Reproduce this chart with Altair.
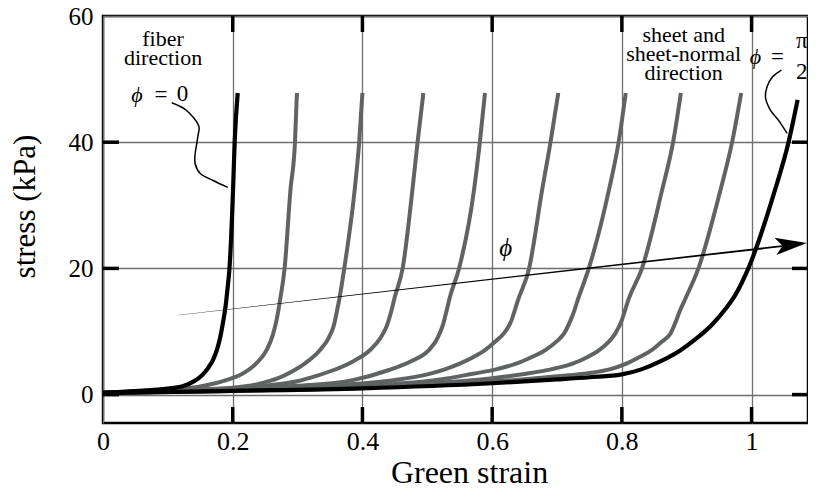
import altair as alt
import pandas as pd

# ---------------- data ----------------
x_ticks = [0.2, 0.4, 0.6, 0.8, 1.0]
x_labels = [0, 0.2, 0.4, 0.6, 0.8, 1.0]
y_ticks = [0, 20, 40]
y_labels = [0, 20, 40, 60]

# fiber direction (phi = 0), black
fiber_x = [0, 0.05, 0.10, 0.125, 0.140, 0.152, 0.162, 0.170, 0.176, 0.181, 0.185, 0.189, 0.192, 0.195, 0.2005, 0.203, 0.2077]
fiber_y = [0.3, 0.55, 0.95, 1.4, 2.1, 3.0, 4.2, 5.6, 7.2, 9.2, 11.4, 14.0, 16.8, 20, 32.4, 40, 47.8]

# sheet / sheet-normal direction (phi = pi/2), black
sheet_x = [0, 0.2, 0.4, 0.6, 0.7, 0.75, 0.8, 0.83, 0.86, 0.89, 0.915, 0.94, 0.96, 0.975, 0.995, 1.036, 1.057, 1.071]
sheet_y = [0.25, 0.6, 1.0, 1.8, 2.4, 2.75, 3.2, 4.0, 5.3, 7.0, 8.9, 11.2, 13.6, 15.8, 20, 32.4, 40, 46.7]

# intermediate angles, grey
gray_x = [
    [0, 0.05, 0.10, 0.15, 0.19, 0.215, 0.236, 0.252, 0.262, 0.268, 0.273, 0.280, 0.289, 0.296, 0.299],
    [0, 0.10, 0.20, 0.24, 0.27, 0.290, 0.312, 0.334, 0.348, 0.356, 0.361, 0.365, 0.372, 0.388, 0.395, 0.400],
    [0, 0.15, 0.25, 0.303, 0.33, 0.356, 0.386, 0.411, 0.428, 0.438, 0.445, 0.450, 0.462, 0.477, 0.485, 0.494],
    [0, 0.20, 0.30, 0.385, 0.441, 0.475, 0.502, 0.516, 0.524, 0.530, 0.535, 0.549, 0.572, 0.581, 0.589],
    [0, 0.20, 0.35, 0.45, 0.50, 0.527, 0.550, 0.572, 0.589, 0.607, 0.618, 0.630, 0.635, 0.640, 0.657, 0.677, 0.690, 0.702],
    [0, 0.30, 0.45, 0.52, 0.570, 0.606, 0.637, 0.662, 0.682, 0.699, 0.711, 0.721, 0.727, 0.732, 0.749, 0.780, 0.795, 0.806],
    [0, 0.40, 0.52, 0.60, 0.652, 0.691, 0.724, 0.748, 0.765, 0.780, 0.790, 0.800, 0.805, 0.810, 0.831, 0.862, 0.879, 0.891],
    [0, 0.45, 0.58, 0.646, 0.700, 0.748, 0.781, 0.807, 0.828, 0.846, 0.862, 0.875, 0.884, 0.890, 0.897, 0.918, 0.952, 0.970, 0.984],
]
gray_y = [
    [0.3, 0.5, 0.8, 1.3, 2.3, 3.3, 4.9, 7.0, 9.5, 12.0, 15.0, 20, 32.4, 40, 47.8],
    [0.3, 0.65, 1.1, 1.7, 2.6, 3.6, 5.0, 7.0, 9.0, 11.0, 13.4, 15.5, 20, 32.4, 40, 47.8],
    [0.3, 0.8, 1.4, 2.2, 3.0, 3.9, 5.3, 7.0, 9.0, 11.0, 13.4, 15.5, 20, 32.4, 40, 47.8],
    [0.3, 0.9, 1.4, 2.3, 3.9, 5.3, 7.0, 9.0, 11.0, 13.4, 15.5, 20, 32.4, 40, 47.8],
    [0.3, 0.8, 1.4, 2.3, 3.2, 4.0, 4.9, 6.0, 7.05, 8.6, 9.7, 11.8, 13.4, 15, 20, 32.4, 40, 47.8],
    [0.3, 1.0, 1.7, 2.4, 3.3, 4.0, 4.9, 6.0, 7.05, 8.4, 9.7, 11.8, 13.4, 15, 20, 32.4, 40, 47.8],
    [0.3, 1.2, 1.9, 2.6, 3.3, 4.0, 4.9, 6.0, 7.05, 8.4, 9.7, 11.8, 13.4, 15, 20, 32.4, 40, 47.8],
    [0.3, 1.3, 2.0, 2.4, 2.9, 3.4, 4.0, 4.9, 6.0, 7.05, 8.4, 9.7, 11.8, 13.4, 15, 20, 32.4, 40, 47.8],
]

# annotation leader curves and the phi arrow
lead0_x = [0.106, 0.128, 0.148, 0.1466, 0.1446, 0.1419, 0.1419, 0.1496, 0.1697, 0.1924]
lead0_y = [46.26, 45.1, 42.46, 41.14, 39.83, 37.97, 36.66, 35.07, 33.93, 32.85]
lead1_x = [1.046, 1.032, 1.0239, 1.0213, 1.029, 1.0414, 1.0547]
lead1_y = [51.44, 50.33, 48.80, 47.21, 45.1, 43.5, 41.41]
arrow_x = [0.1162, 1.0570]
arrow_y = [12.61, 23.65]
arrow_w = [0.3, 2.0]
head_x = [1.0610]
head_y = [23.76]

# texts
note_text = ["fiber\ndirection", "sheet and\nsheet-normal\ndirection"]
note_x = [0.0926, 0.8953]
note_y = [55.29, 55.93]
phi_text = ["\u03d5", "\u03d5", "\u03d5"]
phi_x = [0.0525, 1.006, 0.621]
phi_y = [47.48, 53.5, 23.31]
phi_size = [22, 22, 25]
sym_text = ["=", "0", "=", "\u03c0", "2"]
sym_x = [0.0895, 0.1226, 1.040, 1.0775, 1.0775]
sym_y = [47.48, 47.64, 53.5, 56.04, 51.13]

# ---------------- build tables ----------------
rows = []
for k, (xs, ys) in enumerate(zip(gray_x, gray_y)):
    for i, (a, b) in enumerate(zip(xs, ys)):
        rows.append({"curve": f"g{k}", "i": i, "x": a, "y": b})
gray_df = pd.DataFrame(rows)

rows = []
for name, xs, ys in [("fiber", fiber_x, fiber_y), ("sheet", sheet_x, sheet_y)]:
    for i, (a, b) in enumerate(zip(xs, ys)):
        rows.append({"curve": name, "i": i, "x": a, "y": b})
black_df = pd.DataFrame(rows)

rows = []
for name, xs, ys in [("l0", lead0_x, lead0_y), ("l1", lead1_x, lead1_y)]:
    for i, (a, b) in enumerate(zip(xs, ys)):
        rows.append({"curve": name, "i": i, "x": a, "y": b})
lead_df = pd.DataFrame(rows)

arrow_df = pd.DataFrame({"x": arrow_x, "y": arrow_y, "w": arrow_w, "i": [0, 1]})
head_df = pd.DataFrame({"x": head_x, "y": head_y})
note_df = pd.DataFrame({"x": note_x, "y": note_y, "t": note_text})
phi_df = pd.DataFrame({"x": phi_x, "y": phi_y, "t": phi_text, "s": phi_size})
sym_df = pd.DataFrame({"x": sym_x, "y": sym_y, "t": sym_text})
xt_df = pd.DataFrame({"v": x_ticks})
yt_df = pd.DataFrame({"v": y_ticks})

# ---------------- scales & axes ----------------
FONT = "Liberation Serif"
GRAY = "#5f6363"
W, H = 705, 407

xscale = alt.Scale(domain=[0, 1.087], nice=False, zero=False)
yscale = alt.Scale(domain=[-4.5, 60], nice=False, zero=False)
xaxis = alt.Axis(values=x_labels, format="~g", title="Green strain", grid=True,
                 labelFont=FONT, labelFontSize=26, labelColor="black",
                 labelPadding=5, titleX=366, titleY=59, titleAlign="center",
                 titleBaseline="alphabetic", titleFont=FONT, titleFontSize=32,
                 titleFontWeight="normal", titleColor="black")
yaxis = alt.Axis(values=y_labels, title="stress (kPa)", grid=True,
                 labelFont=FONT, labelFontSize=25, labelColor="black",
                 labelPadding=10, titleAngle=270, titleX=-78, titleY=190,
                 titleAlign="center", titleBaseline="middle", titleFont=FONT,
                 titleFontSize=31, titleFontWeight="normal", titleColor="black")

X = lambda f="x": alt.X(f"{f}:Q", scale=xscale, axis=xaxis)
Y = lambda f="y": alt.Y(f"{f}:Q", scale=yscale, axis=yaxis)

gray_layer = alt.Chart(gray_df).mark_line(
    color=GRAY, strokeWidth=4, interpolate="monotone"
).encode(x=X(), y=Y(), detail="curve:N", order="i:Q")

black_layer = alt.Chart(black_df).mark_line(
    color="black", strokeWidth=4.2, interpolate="monotone"
).encode(x=X(), y=Y(), detail="curve:N", order="i:Q")

lead_layer = alt.Chart(lead_df).mark_line(
    color="black", strokeWidth=1.5, interpolate="catmull-rom"
).encode(x=X(), y=Y(), detail="curve:N", order="i:Q")

arrow_layer = alt.Chart(arrow_df).mark_trail(color="black").encode(
    x=X(), y=Y(), size=alt.Size("w:Q", scale=None, legend=None), order="i:Q")

head_layer = alt.Chart(head_df).mark_point(
    shape="M1,0L-1,-0.55L-0.55,0L-1,0.55Z", filled=True, color="black",
    opacity=1, size=1000, angle=353.5
).encode(x=X(), y=Y())

note_layer = alt.Chart(note_df).mark_text(
    font=FONT, fontSize=22, lineBreak="\n", lineHeight=19, align="center",
    baseline="alphabetic", color="black"
).encode(x=X(), y=Y(), text="t:N")

phi_layer = alt.Chart(phi_df).mark_text(
    font=FONT, fontStyle="italic", align="center", baseline="middle", color="black"
).encode(x=X(), y=Y(), text="t:N", size=alt.Size("s:Q", scale=None, legend=None))

sym_layer = alt.Chart(sym_df).mark_text(
    font=FONT, fontSize=23, align="center", baseline="middle", color="black"
).encode(x=X(), y=Y(), text="t:N")

bottom_ticks = alt.Chart(xt_df).mark_rule(color="black", strokeWidth=3.5).encode(
    x=X("v"), y=alt.value(H), y2=alt.value(H - 16))
top_ticks = alt.Chart(xt_df).mark_rule(color="black", strokeWidth=3.5).encode(
    x=X("v"), y=alt.value(0), y2=alt.value(16))
left_ticks = alt.Chart(yt_df).mark_rule(color="black", strokeWidth=3.5).encode(
    y=Y("v"), x=alt.value(0), x2=alt.value(16))
right_ticks = alt.Chart(yt_df).mark_rule(color="black", strokeWidth=3.5).encode(
    y=Y("v"), x=alt.value(W), x2=alt.value(W - 16))

chart = alt.layer(
    gray_layer, black_layer, lead_layer, arrow_layer, head_layer,
    note_layer, phi_layer, sym_layer,
    bottom_ticks, top_ticks, left_ticks, right_ticks,
).properties(
    width=W, height=H,
    autosize=alt.AutoSizeParams(type="none"),
    padding={"left": 95, "top": 8, "right": 0, "bottom": 63},
    background="white",
).configure_view(
    stroke="black", strokeWidth=2.5
).configure_axis(
    labelFont=FONT, labelFontSize=26, labelColor="black",
    titleFont=FONT, titleFontWeight="normal", titleColor="black",
    gridColor="#6e6e6e", gridWidth=1.3, gridOpacity=1,
    domain=False, ticks=False, tickSize=0, labelFlush=False, labelOverlap=False,
)

chart.save("out.html", embed_options={"renderer": "svg", "actions": False})
